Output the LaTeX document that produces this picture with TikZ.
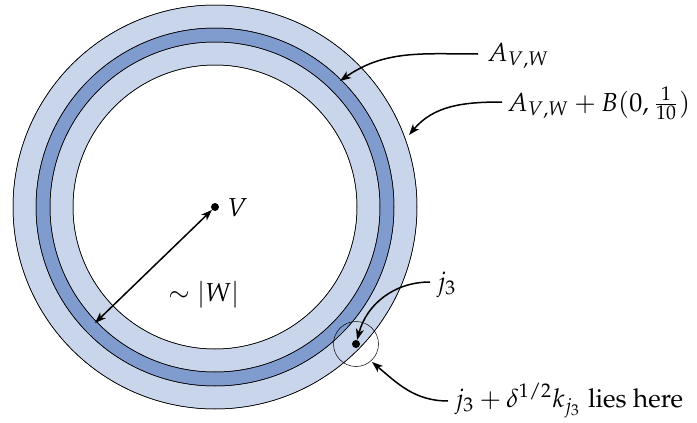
\documentclass[tikz,border=0pt]{standalone}
\usepackage[T1]{fontenc}
\usepackage{mathpazo}
\usepackage{graphicx}
\usetikzlibrary{arrows.meta}
\definecolor{lightring}{RGB}{201,213,234}
\definecolor{darkring}{RGB}{128,155,206}
\newcommand{\bigtxt}[1]{\scalebox{2.6}{#1}}
\tikzset{
  ring/.style={draw=black,line width=0.5pt},
  callout/.style={line width=1.5pt,-{Stealth[length=11pt,width=8pt,inset=3pt]}},
  lbl/.style={inner sep=0pt,anchor=base west},
  dot/.style={circle,fill=black,inner sep=0pt,minimum size=8pt}
}
\begin{document}
\begin{tikzpicture}[x=1pt,y=-1pt]
\useasboundingbox (0,0) rectangle (697,423);
\coordinate (C) at (215,207);
\fill[ring,fill=lightring] (C) circle (202);
\fill[ring,fill=darkring] (C) circle (179);
\fill[ring,fill=lightring] (C) circle (165);
\fill[ring,fill=white] (C) circle (142);
\draw[ring] (C) circle (202);
\draw[ring] (C) circle (179);
\draw[ring] (C) circle (165);
\draw[ring] (C) circle (142);
% small circle
\node[draw,circle,line width=0.5pt,minimum size=45pt,inner sep=0pt] (sc) at (356,344) {};
\node[dot] (j) at (356,344) {};
\node[dot] (V) at (C) {};
\coordinate (R) at (95,323);
\draw[line width=1.5pt,{Stealth[length=11pt,width=8pt,inset=3pt]}-{Stealth[length=11pt,width=8pt,inset=3pt]}] (V) -- (R);
% labels
\node[lbl] (lV) at (227,216) {\bigtxt{$V$}};
\node[lbl] (lW) at (168,301) {\bigtxt{$\sim|W|$}};
\node[lbl] (lA) at (487,61) {\bigtxt{$A_{V,W}$}};
\node[lbl] (lB) at (507,111) {\bigtxt{$A_{V,W}+B(0,\frac{1}{10})$}};
\node[lbl] (lj) at (437,290) {\bigtxt{$j_3$}};
\node[lbl] (lh) at (455,407) {\bigtxt{$j_3+\delta^{1/2}k_{j_3}$ lies here}};
\coordinate (sA) at (478,54);
\coordinate (tA) at (340,81);
\coordinate (sB) at (502,102);
\coordinate (tB) at (409,135);
\coordinate (sj) at (430,282);
\coordinate (sh) at (448,401);
\coordinate (th) at (372,362);
\draw[callout] (sA) to[out=180,in=35] (tA);
\draw[callout] (sB) to[out=180,in=50] (tB);
\draw[callout] (sj) to[out=180,in=75] (j);
\draw[callout] (sh) to[out=180,in=-40] (th);
\end{tikzpicture}
\end{document}
